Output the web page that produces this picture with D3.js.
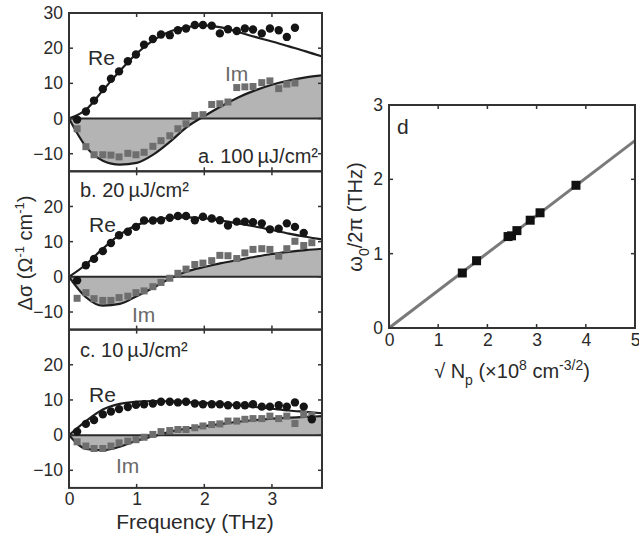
<!DOCTYPE html>
<html><head><meta charset="utf-8">
<script src="https://cdn.jsdelivr.net/npm/d3@7"></script>
<style>body{margin:0;background:#fff}svg{display:block}text{font-family:"Liberation Sans",Arial,sans-serif;fill:#2a2a2a}</style>
</head><body>
<script>
// ---- data ----
const freqs = [0.12,0.25,0.37,0.50,0.62,0.74,0.87,0.99,1.11,1.24,1.36,1.49,1.61,1.73,1.86,1.98,2.11,2.23,2.35,2.48,2.60,2.72,2.85,2.97,3.10,3.22,3.34,3.47,3.59];
const reA = [-0.3,2,5.1,8.4,11.3,13.4,16.3,18.2,21,22.6,23.9,23.7,25.1,25.6,26.6,26.6,26.4,24.2,25.4,24.9,25.6,25.3,24.2,25.6,25.1,23.2,25.8];
const imA = [-2.9,-8,-10.3,-10.3,-10.4,-10.9,-9.9,-10.3,-9.6,-7.9,-6.3,-4.9,-2.9,-1.5,0.9,1.1,4.0,4.2,4.7,8.8,9.0,9.1,10.2,10.7,8.5,9.8,10.1];
const reB = [-1,3.3,5.1,7.3,9.6,11.8,12.8,14.2,16,16,16.1,16.8,17.3,17.3,16.1,17.1,16.6,16.1,14.6,15.7,15.7,15.5,15.2,13.5,13.7,15.2,14.2,12.5];
const imB = [-6.1,-4.5,-6.2,-6.7,-6.7,-5.9,-5.5,-4.5,-4.0,-2.8,-1.6,-0.4,1.0,2.2,3.5,3.9,4.6,6.1,6.0,5.2,6.8,7.8,8.0,7.8,5.9,8.0,10.1,8.9,9.7];
const reC = [1.0,3.2,4.3,5.9,6.7,7.4,8.0,8.6,8.8,9.0,9.5,9.5,9.3,9.5,9.0,8.8,8.8,8.8,8.5,8.5,8.5,8.8,8.1,8.1,8.5,8.1,9.3,8.1,4.5];
const imC = [-1.9,-3.1,-3.8,-3.8,-3.1,-2.2,-1.7,-1.3,-0.6,0.2,1.0,1.3,1.6,1.6,2.1,2.6,3.0,3.2,4.0,4.0,4.5,4.7,4.7,5.4,4.7,5.4,3.3,5.9,5.6];
const fitFreq = [0,0.25,0.5,0.75,1,1.25,1.5,1.75,2,2.25,2.5,2.75,3,3.25,3.5,3.75];
const fitReA = [0,2.5,8,13.5,18.5,22.3,24.8,26,26.5,25.9,24.6,23.2,21.9,20.5,19.1,17.6];
const fitImA = [0,-8,-12,-13.1,-12.6,-10.2,-6.5,-2.3,0.7,3.5,6,8,9.6,10.8,11.7,12.3];
const fitReB = [0,3.5,8,12,14.7,16.2,16.8,16.9,16.6,16,15.2,14.3,13.3,12.3,11.4,10.6];
const fitImB = [0,-5.8,-8.2,-7.7,-5.5,-3.1,-0.4,1.6,2.8,3.9,4.8,5.7,6.5,7.1,7.6,8.0];
const fitReC = [0,4,7.3,8.9,9.5,9.7,9.6,9.4,9.2,8.9,8.5,8.0,7.5,7.0,6.6,6.2];
const fitImC = [0,-3.9,-4.3,-3.3,-1.6,-0.3,1.0,1.9,2.6,3.2,3.8,4.3,4.7,5.0,5.2,5.4];
const freqTicks = [0,1,2,3];
const sigmaTicks = [-10,0,10,20,30];
const sqrtN = [1.49,1.78,2.42,2.49,2.60,2.87,3.07,3.80];
const omega = [0.74,0.905,1.23,1.24,1.31,1.45,1.55,1.92];
const lineX = [0,5];
const lineY = [0,2.52];
const dTicksX = [0,1,2,3,4,5];
const dTicksY = [0,1,2,3];

const panels = [
  {re:reA, im:imA, fre:fitReA, fim:fitImA, label:"a. 100\u2009µJ/cm²", lx:318, ly:163, anchor:"end", yt:[-10,0,10,20,30],
   reL:[88,65], imL:[225,81]},
  {re:reB, im:imB, fre:fitReB, fim:fitImB, label:"b. 20\u2009µJ/cm²", lx:80, ly:197, anchor:"start", yt:[-10,0,10,20],
   reL:[89,232], imL:[132,322]},
  {re:reC, im:imC, fre:fitReC, fim:fitImC, label:"c. 10\u2009µJ/cm²", lx:80, ly:357, anchor:"start", yt:[-10,0,10,20],
   reL:[89,402], imL:[116,473]}
];

const W=639,H=537;
const svg=d3.select("body").append("svg").attr("width",W).attr("height",H);
const frameCol="#333", tickLen=4;

const x=d3.scaleLinear().domain([0,3.74]).range([69,322]);
const ph=158.3, top0=13;

panels.forEach((p,i)=>{
  const t=top0+i*ph, b=t+ph;
  const y=d3.scaleLinear().domain([-15,30]).range([b,t]);
  const g=svg.append("g");
  const clipId="clip"+i;
  g.append("clipPath").attr("id",clipId).append("rect").attr("x",x(0)).attr("y",t).attr("width",x(3.74)-x(0)).attr("height",ph);
  const gc=g.append("g").attr("clip-path",`url(#${clipId})`);
  const fitIm=fitFreq.map((f,k)=>[f,p.fim[k]]);
  const fitRe=fitFreq.map((f,k)=>[f,p.fre[k]]);
  gc.append("path").datum(fitIm)
    .attr("d",d3.area().x(d=>x(d[0])).y0(y(0)).y1(d=>y(d[1])).curve(d3.curveMonotoneX))
    .attr("fill","#b4b4b4");
  gc.append("line").attr("x1",x(0)).attr("x2",x(3.74)).attr("y1",y(0)).attr("y2",y(0)).attr("stroke","#2a2a2a").attr("stroke-width",2);
  gc.append("path").datum(fitIm)
    .attr("d",d3.line().x(d=>x(d[0])).y(d=>y(d[1])).curve(d3.curveMonotoneX))
    .attr("fill","none").attr("stroke","#1e1e1e").attr("stroke-width",2.2);
  gc.append("path").datum(fitRe)
    .attr("d",d3.line().x(d=>x(d[0])).y(d=>y(d[1])).curve(d3.curveMonotoneX))
    .attr("fill","none").attr("stroke","#1e1e1e").attr("stroke-width",2.2);
  gc.selectAll(".sq").data(p.im).enter().append("rect")
    .attr("x",(d,k)=>x(freqs[k])-3.5).attr("y",d=>y(d)-3.5).attr("width",7).attr("height",7)
    .attr("fill","#6e6e6e");
  gc.selectAll(".ci").data(p.re).enter().append("circle")
    .attr("cx",(d,k)=>x(freqs[k])).attr("cy",d=>y(d)).attr("r",4.2)
    .attr("fill","#151515");
  g.append("rect").attr("x",x(0)).attr("y",t).attr("width",x(3.74)-x(0)).attr("height",ph)
    .attr("fill","none").attr("stroke",frameCol).attr("stroke-width",2);
  const ya=d3.axisLeft(y).tickValues(p.yt).tickSize(0).tickPadding(6);
  const yg=g.append("g").attr("transform",`translate(${x(0)},0)`).call(ya);
  yg.select(".domain").remove();
  yg.selectAll("text").attr("font-size",17.5).attr("fill","#2a2a2a").style("font-family","Liberation Sans, Arial");
  p.yt.filter(v=>v<30).forEach(v=>{
    g.append("line").attr("x1",x(0)).attr("x2",x(0)+tickLen).attr("y1",y(v)).attr("y2",y(v)).attr("stroke",frameCol).attr("stroke-width",1.5);
    g.append("line").attr("x1",x(3.74)).attr("x2",x(3.74)-tickLen).attr("y1",y(v)).attr("y2",y(v)).attr("stroke",frameCol).attr("stroke-width",1.5);
  });
  freqTicks.filter(v=>v>0).forEach(v=>{
    g.append("line").attr("x1",x(v)).attr("x2",x(v)).attr("y1",t).attr("y2",t+tickLen).attr("stroke",frameCol).attr("stroke-width",1.5);
    g.append("line").attr("x1",x(v)).attr("x2",x(v)).attr("y1",b).attr("y2",b-tickLen).attr("stroke",frameCol).attr("stroke-width",1.5);
  });
  g.append("text").attr("x",p.lx).attr("y",p.ly).attr("text-anchor",p.anchor).attr("font-size",20).text(p.label);
  g.append("text").attr("x",p.reL[0]).attr("y",p.reL[1]).attr("font-size",21).attr("fill","#1e1e1e").text("Re");
  g.append("text").attr("x",p.imL[0]).attr("y",p.imL[1]).attr("font-size",21).style("fill","#6a6a6a").text("Im");
  if(i===2){
    const xa=d3.axisBottom(x).tickValues(freqTicks).tickSize(0).tickPadding(5).tickFormat(d3.format("d"));
    const xg=g.append("g").attr("transform",`translate(0,${b})`).call(xa);
    xg.select(".domain").remove();
    xg.selectAll("text").attr("font-size",17.5).attr("fill","#2a2a2a").style("font-family","Liberation Sans, Arial");
  }
});

svg.append("text").attr("x",195).attr("y",529).attr("text-anchor","middle").attr("font-size",21).text("Frequency (THz)");
const yl=svg.append("text").attr("transform","translate(32,253) rotate(-90)").attr("text-anchor","middle").attr("font-size",20);
yl.append("tspan").text("Δσ (Ω");
yl.append("tspan").attr("dy",-8).attr("font-size",13).text("-1");
yl.append("tspan").attr("dy",8).text(" cm");
yl.append("tspan").attr("dy",-8).attr("font-size",13).text("-1");
yl.append("tspan").attr("dy",8).text(")");

// ---- panel d ----
const xd=d3.scaleLinear().domain([0,5]).range([389,635]);
const yd=d3.scaleLinear().domain([0,3]).range([328,105]);
const gd=svg.append("g");
gd.append("line").attr("x1",xd(lineX[0])).attr("y1",yd(lineY[0])).attr("x2",xd(lineX[1])).attr("y2",yd(lineY[1]))
  .attr("stroke","#7a7a7a").attr("stroke-width",3);
gd.selectAll(".dsq").data(sqrtN).enter().append("rect")
  .attr("x",d=>xd(d)-4.5).attr("y",(d,k)=>yd(omega[k])-4.5).attr("width",9).attr("height",9).attr("fill","#111");
gd.append("rect").attr("x",xd(0)).attr("y",yd(3)).attr("width",xd(5)-xd(0)).attr("height",yd(0)-yd(3))
  .attr("fill","none").attr("stroke",frameCol).attr("stroke-width",2);
dTicksX.filter(v=>v>0&&v<5).forEach(v=>{
  gd.append("line").attr("x1",xd(v)).attr("x2",xd(v)).attr("y1",yd(0)).attr("y2",yd(0)-tickLen).attr("stroke",frameCol).attr("stroke-width",1.5);
  gd.append("line").attr("x1",xd(v)).attr("x2",xd(v)).attr("y1",yd(3)).attr("y2",yd(3)+tickLen).attr("stroke",frameCol).attr("stroke-width",1.5);
});
dTicksY.filter(v=>v>0&&v<3).forEach(v=>{
  gd.append("line").attr("x1",xd(0)).attr("x2",xd(0)+tickLen).attr("y1",yd(v)).attr("y2",yd(v)).attr("stroke",frameCol).attr("stroke-width",1.5);
  gd.append("line").attr("x1",xd(5)).attr("x2",xd(5)-tickLen).attr("y1",yd(v)).attr("y2",yd(v)).attr("stroke",frameCol).attr("stroke-width",1.5);
});
const xga=gd.append("g").attr("transform",`translate(0,${yd(0)})`).call(d3.axisBottom(xd).tickValues(dTicksX).tickSize(0).tickPadding(6).tickFormat(d3.format("d")));
xga.select(".domain").remove();
xga.selectAll("text").attr("font-size",17.5).attr("fill","#2a2a2a").style("font-family","Liberation Sans, Arial");
const yga=gd.append("g").attr("transform",`translate(${xd(0)},0)`).call(d3.axisLeft(yd).tickValues(dTicksY).tickSize(0).tickPadding(6).tickFormat(d3.format("d")));
yga.select(".domain").remove();
yga.selectAll("text").attr("font-size",17.5).attr("fill","#2a2a2a").style("font-family","Liberation Sans, Arial");
gd.append("text").attr("x",397).attr("y",134).attr("font-size",21).text("d");
const xl=gd.append("text").attr("x",512).attr("y",378).attr("text-anchor","middle").attr("font-size",20);
xl.append("tspan").text("√ N");
xl.append("tspan").attr("dy",7).attr("font-size",14).text("p");
xl.append("tspan").attr("dy",-7).text(" (×10");
xl.append("tspan").attr("dy",-8).attr("font-size",14).text("8");
xl.append("tspan").attr("dy",8).text(" cm");
xl.append("tspan").attr("dy",-8).attr("font-size",14).text("-3/2");
xl.append("tspan").attr("dy",8).text(")");
const yl2=gd.append("text").attr("transform","translate(362,217) rotate(-90)").attr("text-anchor","middle").attr("font-size",20);
yl2.append("tspan").text("ω");
yl2.append("tspan").attr("dy",7).attr("font-size",14).text("0");
yl2.append("tspan").attr("dy",-7).text("/2π (THz)");
</script>
</body></html>
